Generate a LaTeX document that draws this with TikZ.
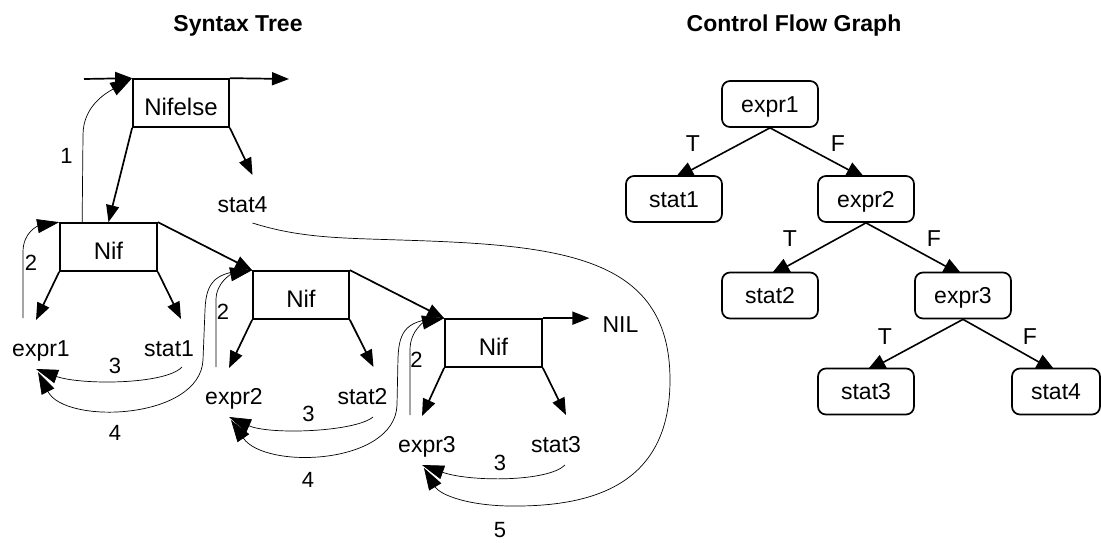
\documentclass[tikz,border=0pt]{standalone}
\usepackage{fontspec}
\setmainfont{Liberation Sans}
\usetikzlibrary{arrows.meta,calc,backgrounds}

\begin{document}
\begin{tikzpicture}[x=1pt,y=-1pt,
  box/.style={draw, line width=1.7pt, minimum width=96pt, minimum height=48pt,
    inner sep=0pt, text height=25pt, text depth=0pt, font=\fontsize{24}{28}\selectfont},
  leaf/.style={anchor=base, inner sep=0pt, font=\fontsize{23}{27}\selectfont},
  num/.style={anchor=base, inner sep=0pt, font=\fontsize{22}{26}\selectfont},
  title/.style={anchor=base, inner sep=0pt, font=\fontsize{23}{27}\selectfont\bfseries},
  link/.style={line width=1.7pt, -{Triangle[length=17pt,width=13pt]}},
  trace/.style={line width=0.7pt, -{Triangle[length=22pt,width=14pt]}},
  cfgbox/.style={draw, fill=white, rounded corners=8pt, line width=1.7pt,
    minimum width=96pt, minimum height=46pt, inner sep=0pt,
    text height=16pt, text depth=0pt, font=\fontsize{23}{27}\selectfont},
  cfgedge/.style={line width=1.6pt, -{Triangle[length=20pt,width=16pt]}}]

\useasboundingbox (0,0) rectangle (1101,542);

% titles
\node[title] (ttree) at (238,31) {Syntax Tree};
\node[title] (tcfg) at (794,31) {Control Flow Graph};

% ---------------- syntax tree ----------------
\node[box] (nifelse) at (181,103) {Nifelse};
\node[box, minimum width=97pt] (nif1) at (108.5,247) {Nif};
\node[box] (nif2) at (301,295) {Nif};
\node[box, minimum width=97pt] (nif3) at (493.5,343) {Nif};

\node[leaf] (expr1) at (41,356) {expr1};
\node[leaf] (stat1) at (169,356) {stat1};
\node[leaf] (expr2) at (234,404) {expr2};
\node[leaf] (stat2) at (362.5,404) {stat2};
\node[leaf] (expr3) at (427,452) {expr3};
\node[leaf] (stat3) at (556,452) {stat3};
\node[leaf] (stat4) at (242.5,212) {stat4};
\node[leaf] (nil) at (620.5,332) {NIL};

\coordinate (prev) at (84,79);
\coordinate (next) at (289,79);

% tree links
\draw[link] (prev) -- (nifelse.north west);
\draw[link] (nifelse.north east) -- (next);
\draw[link] (nifelse.south west) -- (nif1.north);
\draw[link] (nifelse.south east) -- ($(stat4.base)+(10,-37)$);
\draw[link] (nif1.north east) -- (nif2.north west);
\draw[link] (nif2.north east) -- (nif3.north west);
\draw[link] (nif3.north east) -- ($(nil.west |- nif3.north east)+(-13,0)$);
\draw[link] (nif1.south west) -- ($(expr1.base)+(-5,-36)$);
\draw[link] (nif1.south east) -- ($(stat1.base)+(12,-37)$);
\draw[link] (nif2.south west) -- ($(expr2.base)+(-5,-36)$);
\draw[link] (nif2.south east) -- ($(stat2.base)+(11,-37)$);
\draw[link] (nif3.south west) -- ($(expr3.base)+(-5,-36)$);
\draw[link] (nif3.south east) -- ($(stat3.base)+(10,-37)$);

% evaluation order traces
\draw[trace] ($(nif1.north west)+(23,0)$) -- (83,135)
  .. controls (83,105) and (108,92) .. (nifelse.north west);

\draw[trace] ($(expr1.base)+(-18,-38)$) -- (23,252)
  .. controls (23,232) and (38,226) .. (nif1.north west);
\draw[trace] ($(stat1.base)+(13,11)$)
  .. controls (165,385) and (80,385) .. ($(expr1.base)+(-5,13)$);
\draw[trace] (nif2.north west) .. controls (215,271) and (206,282) .. (205,310)
  -- (203,360) .. controls (200,420) and (65,425) .. ($(expr1.base)+(-3,16)$);

\draw[trace] ($(expr2.base)+(-18,-37)$) -- (216,300)
  .. controls (216,282) and (232,274) .. (nif2.north west);
\draw[trace] ($(stat2.base)+(10.5,13)$)
  .. controls (355,432) and (270,435) .. ($(expr2.base)+(-5,13)$);
\draw[trace] (nif3.north west) .. controls (407,319) and (399,330) .. (398,358)
  -- (397,405) .. controls (395,465) and (265,470) .. ($(expr2.base)+(-3,16)$);

\draw[trace] ($(expr3.base)+(-17,-37)$) -- (410,350)
  .. controls (410,330) and (425,322) .. (nif3.north west);
\draw[trace] ($(stat3.base)+(9,13)$)
  .. controls (548,482) and (470,482) .. ($(expr3.base)+(-5,13)$);
\draw[trace] ($(stat4.base)+(10,11)$)
  .. controls (300,238) and (340,238) .. (400,240)
  .. controls (560,245) and (670,255) .. (670,380)
  .. controls (670,480) and (600,505) .. (520,506)
  .. controls (470,507) and (440,495) .. ($(expr3.base)+(-3,16)$);

% trace step numbers
\node[num] (s1) at (66.5,163) {1};
\node[num] (s2a) at (31,270.5) {2};
\node[num] (s3a) at (115,373) {3};
\node[num] (s4a) at (115,440) {4};
\node[num] (s2b) at (223,319) {2};
\node[num] (s3b) at (308.5,421.5) {3};
\node[num] (s4b) at (308,487) {4};
\node[num] (s2c) at (416.5,367) {2};
\node[num] (s3c) at (500,470) {3};
\node[num] (s5) at (500,537) {5};

% ---------------- control flow graph ----------------
\node[cfgbox] (c-expr1) at (770,104) {expr1};
\node[cfgbox] (c-stat1) at (674,199) {stat1};
\node[cfgbox] (c-expr2) at (866,199) {expr2};
\node[cfgbox] (c-stat2) at (770,295.5) {stat2};
\node[cfgbox] (c-expr3) at (963,295.5) {expr3};
\node[cfgbox] (c-stat3) at (866,391.5) {stat3};
\node[cfgbox, minimum width=88pt] (c-stat4) at (1056,391.5) {stat4};

\begin{scope}[on background layer]
  \fill[white] (0,0) rectangle (1101,542);
  \draw[cfgedge] (c-expr1.south) -- ($(c-stat1.north)+(0,4)$);
  \draw[cfgedge] (c-expr1.south) -- ($(c-expr2.north)+(0,4)$);
  \draw[cfgedge] (c-expr2.south) -- ($(c-stat2.north)+(0,4)$);
  \draw[cfgedge] (c-expr2.south) -- ($(c-expr3.north)+(0,4)$);
  \draw[cfgedge] (c-expr3.south) -- ($(c-stat3.north)+(0,4)$);
  \draw[cfgedge] (c-expr3.south) -- ($(c-stat4.north)+(0,4)$);
\end{scope}

\node[leaf] (t1) at ($(c-expr1.south)+(-77,24)$) {T};
\node[leaf] (f1) at ($(c-expr1.south)+(68,24)$) {F};
\node[leaf] (t2) at ($(c-expr2.south)+(-76,24)$) {T};
\node[leaf] (f2) at ($(c-expr2.south)+(68,24)$) {F};
\node[leaf] (t3) at ($(c-expr3.south)+(-78,25)$) {T};
\node[leaf] (f3) at ($(c-expr3.south)+(67,25)$) {F};

\end{tikzpicture}
\end{document}
